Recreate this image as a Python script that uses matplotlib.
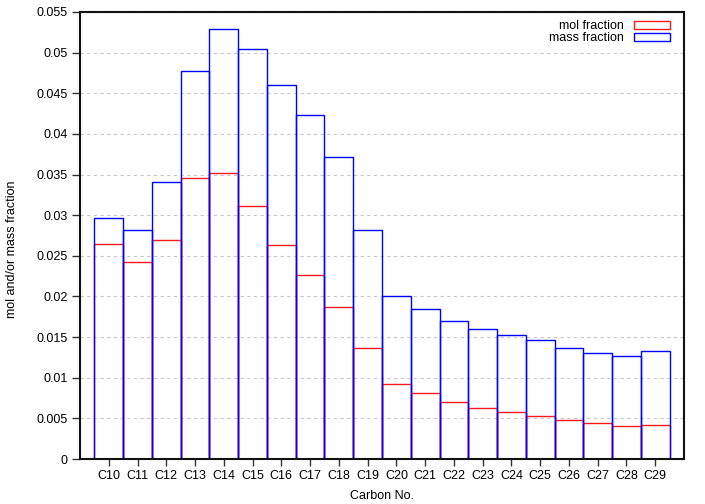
import matplotlib
matplotlib.use("Agg")
import matplotlib.pyplot as plt
import numpy as np
from matplotlib.patches import Patch
from matplotlib.ticker import FuncFormatter, MultipleLocator

plt.rcParams["font.family"] = ["Liberation Sans", "DejaVu Sans"]
plt.rcParams["font.size"] = 9

carbons = ["C10", "C11", "C12", "C13", "C14", "C15", "C16", "C17", "C18", "C19",
           "C20", "C21", "C22", "C23", "C24", "C25", "C26", "C27", "C28", "C29"]
mol_frac = [0.0265, 0.0242, 0.0269, 0.0346, 0.0352, 0.0311, 0.0263, 0.0226, 0.0187, 0.0136,
            0.0092, 0.0081, 0.0070, 0.0063, 0.0058, 0.0053, 0.0048, 0.0044, 0.0041, 0.0042]
mass_frac = [0.0297, 0.0282, 0.0341, 0.0477, 0.0529, 0.0505, 0.0460, 0.0423, 0.0371, 0.0282,
             0.0200, 0.0185, 0.0170, 0.0160, 0.0153, 0.0146, 0.0136, 0.0130, 0.0127, 0.0133]

x = np.arange(len(carbons))

fig = plt.figure(figsize=(7.05, 5.04), dpi=100)
ax = fig.add_axes([80 / 705, 1 - 459 / 504, 604 / 705, 447 / 504])

# grid behind bars
ax.set_axisbelow(True)
ax.yaxis.grid(True, color="#c8c8c8", linestyle=(0, (3, 3)), linewidth=0.8)

# mol first, mass on top (both outlines only)
ax.bar(x, mol_frac, width=1.0, fill=False, edgecolor="#ff1a1a", linewidth=1.0)
ax.bar(x, mass_frac, width=1.0, fill=False, edgecolor="#0000ff", linewidth=1.0)

ax.set_xlim(-1, 20)
ax.set_ylim(0, 0.055)
ax.set_xticks(x)
ax.set_xticklabels(carbons)
ax.yaxis.set_major_locator(MultipleLocator(0.005))
ax.yaxis.set_major_formatter(FuncFormatter(lambda v, p: "%g" % round(v, 4)))
ax.tick_params(direction="out", length=6, width=1, color="#333333", pad=3)
ax.tick_params(axis="x", length=5)

for s in ax.spines.values():
    s.set_linewidth(1.5)
    s.set_color("#111111")

ax.set_xlabel("Carbon No.", labelpad=6)
ax.set_ylabel("mol and/or mass fraction")
ax.yaxis.set_label_coords(-0.103, 0.47)

handles = [Patch(facecolor="white", edgecolor="#ff1a1a", linewidth=1.0, label="mol fraction"),
           Patch(facecolor="white", edgecolor="#0000ff", linewidth=1.0, label="mass fraction")]
ax.legend(handles=handles, loc="upper right", bbox_to_anchor=(0.977, 0.981),
          frameon=False, markerfirst=False,
          handlelength=2.9, handleheight=0.5, labelspacing=0.0, handletextpad=0.8,
          borderaxespad=0.0, borderpad=0.0, fontsize=9)

fig.savefig("out.png", dpi=100)
